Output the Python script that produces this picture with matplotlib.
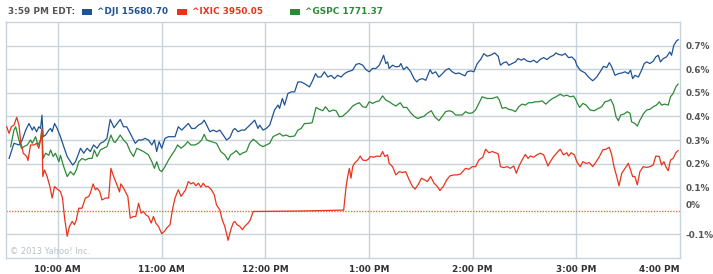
import matplotlib
matplotlib.use("Agg")
import matplotlib.pyplot as plt
import matplotlib.transforms as mtransforms
from matplotlib.patches import Rectangle

plt.rcParams["font.family"] = ["DejaVu Sans"]

# minutes after 9:30 AM, % change from previous close
dji_min = [1.8, 4.6, 7.5, 9.4, 11.4, 13.3, 15.2, 16.2, 17.7, 19.0, 20.0, 20.8, 21.5, 22.9, 24.8, 25.8, 26.7, 28.1, 29.6, 31.5,
           33.4, 35.4, 37.3, 38.6, 40.2, 42.1, 43.1, 45.0, 46.9, 48.8, 50.7, 52.7, 54.6, 56.5, 58.4, 60.3, 62.5, 66.1, 68.0, 69.9,
           71.9, 74.8, 76.7, 78.6, 80.5, 82.4, 84.4, 85.9, 87.2, 88.6, 90.1, 92.0, 94.0, 95.9, 97.8, 99.7, 101.7, 103.6, 105.5, 107.4,
           109.3, 111.3, 113.2, 114.7, 116.1, 118.0, 119.9, 121.8, 123.7, 125.7, 127.6, 129.5, 131.4, 132.4, 134.3, 136.2, 138.1, 140.1, 142.0, 143.9,
           145.8, 146.8, 148.7, 150.6, 152.6, 154.1, 155.4, 157.4, 158.3, 159.9, 161.2, 163.1, 165.0, 167.0, 168.9, 170.8, 172.7, 175.6, 177.5, 179.1,
           180.4, 182.3, 184.2, 186.2, 188.1, 190.0, 191.9, 193.9, 195.8, 197.7, 200.6, 202.5, 204.4, 206.4, 208.3, 210.2, 212.1, 214.0, 216.0, 217.3,
           218.5, 219.8, 220.8, 221.7, 223.7, 225.6, 227.5, 228.5, 230.0, 231.9, 234.2, 236.1, 237.7, 239.0, 241.0, 242.9, 245.4, 246.7, 248.6, 250.5,
           252.5, 254.4, 256.3, 258.2, 260.2, 262.1, 264.0, 265.6, 266.9, 268.8, 270.7, 272.7, 274.6, 276.5, 278.4, 280.3, 282.8, 284.8, 286.1, 288.0,
           289.6, 290.9, 292.8, 294.8, 296.3, 298.2, 299.6, 301.5, 303.4, 305.3, 307.2, 309.2, 311.1, 313.0, 314.9, 316.9, 318.2, 319.7, 321.7, 323.6,
           325.5, 327.4, 329.3, 330.3, 332.2, 335.1, 337.0, 339.5, 341.8, 343.8, 345.7, 347.6, 349.1, 350.5, 352.4, 354.3, 356.3, 358.2, 360.1, 361.4,
           362.6, 363.9, 365.9, 367.8, 369.3, 370.7, 372.6, 374.5, 376.0, 377.4, 378.7, 380.3, 382.2, 384.1, 385.1, 386.4, 388.0, 389.0]
dji_pct = [.222, .286, .279, .300, .342, .370, .342, .356, .335, .356, .349, .405, .314, .321, .342, .349, .335, .370, .349, .314,
           .272, .230, .208, .194, .208, .244, .265, .244, .265, .251, .279, .265, .286, .293, .307, .387, .352, .387, .356, .356,
           .328, .286, .300, .300, .307, .300, .279, .300, .251, .293, .265, .307, .314, .314, .314, .356, .342, .356, .370, .349,
           .349, .363, .370, .384, .363, .335, .342, .335, .342, .321, .300, .310, .342, .349, .335, .342, .342, .356, .370, .384,
           .349, .363, .342, .349, .363, .398, .427, .448, .434, .476, .448, .497, .504, .504, .546, .546, .539, .525, .553, .581,
           .567, .567, .589, .567, .574, .560, .574, .567, .581, .589, .596, .620, .624, .617, .598, .589, .603, .603, .617, .638,
           .659, .624, .631, .603, .617, .610, .612, .624, .598, .610, .589, .560, .546, .556, .560, .553, .598, .581, .589, .567,
           .581, .596, .603, .589, .581, .584, .577, .572, .589, .593, .589, .624, .641, .666, .655, .659, .669, .655, .617, .628,
           .631, .617, .624, .631, .645, .638, .645, .635, .631, .638, .628, .642, .649, .641, .652, .659, .669, .663, .659, .666,
           .649, .652, .638, .617, .596, .584, .567, .551, .567, .589, .612, .607, .628, .610, .574, .581, .584, .589, .581, .596,
           .560, .574, .567, .596, .624, .631, .624, .634, .652, .659, .631, .645, .652, .673, .659, .701, .720, .725]

ixic_min = [0.4, 1.8, 3.1, 4.6, 6.2, 7.5, 8.5, 10.0, 12.0, 12.7, 14.2, 16.2, 17.7, 19.0, 20.0, 20.8, 21.3, 22.3, 23.8, 25.4,
            26.7, 28.1, 29.6, 31.5, 32.7, 33.8, 35.4, 36.7, 38.3, 39.6, 40.7, 42.1, 44.0, 45.9, 47.9, 48.8, 50.4, 51.7, 52.7, 54.2,
            55.5, 57.5, 59.4, 60.7, 62.3, 64.2, 65.7, 66.4, 67.5, 69.0, 70.5, 71.9, 73.8, 75.1, 76.7, 78.2, 79.6, 80.9, 82.4, 84.0,
            85.3, 86.7, 88.2, 90.1, 91.7, 93.0, 94.9, 96.3, 97.8, 99.7, 101.3, 102.6, 103.9, 105.5, 107.0, 108.4, 109.9, 111.3, 112.8, 114.1,
            115.5, 117.0, 118.9, 120.5, 121.8, 123.7, 125.1, 126.6, 128.5, 130.1, 131.4, 132.4, 133.7, 135.3, 136.8, 138.1, 140.1, 141.4, 143.0, 170.0,
            195.4, 196.8, 197.7, 198.7, 199.6, 200.6, 201.6, 203.5, 205.0, 206.4, 208.3, 209.6, 210.8, 212.7, 214.6, 216.5, 217.9, 219.2, 220.8, 221.7,
            223.7, 225.6, 227.5, 229.4, 231.3, 233.3, 235.2, 236.7, 238.4, 240.4, 242.3, 243.8, 245.7, 247.7, 249.6, 251.1, 253.0, 255.0, 256.9, 259.2,
            261.1, 263.0, 265.9, 267.9, 269.8, 271.7, 273.6, 275.9, 277.5, 279.4, 281.3, 283.2, 284.8, 286.1, 288.0, 290.0, 291.9, 293.8, 295.3, 296.7,
            298.6, 300.5, 302.1, 303.4, 305.3, 307.2, 309.2, 311.1, 312.4, 313.6, 314.9, 316.9, 318.8, 320.7, 322.6, 324.5, 325.5, 327.0, 328.9, 330.3,
            332.2, 333.8, 335.7, 337.6, 339.5, 341.5, 343.4, 345.3, 347.2, 349.1, 350.5, 351.8, 353.4, 354.7, 356.3, 358.2, 360.1, 361.4, 362.6, 363.9,
            365.3, 366.8, 368.7, 370.7, 372.6, 374.5, 376.0, 378.0, 379.3, 380.7, 381.8, 383.2, 384.5, 386.0, 387.6, 388.9]
ixic_pct = [.356, .328, .356, .363, .396, .363, .293, .244, .230, .213, .279, .279, .286, .265, .300, .349, .145, .173, .145, .103,
            .054, .103, .092, .082, .054, -.024, -.108, -.066, -.045, -.059, -.038, .011, .011, .054, .061, .075, .114, .089, .096, .082,
            .046, .054, .054, .180, .145, .110, .080, .114, .103, .082, .061, -.031, -.024, -.024, .032, -.010, -.003, -.017, -.024, -.052,
            -.024, -.052, -.066, -.097, -.087, -.073, -.059, .004, .054, .089, .061, .075, .089, .124, .114, .120, .106, .117, .100, .117,
            .103, .103, .089, .068, .025, .004, -.038, -.066, -.125, -.080, -.052, -.045, -.059, -.066, -.080, -.066, -.052, -.038, -.003, -.001,
            .003, .103, .145, .180, .138, .187, .201, .215, .232, .215, .213, .218, .230, .227, .232, .230, .251, .230, .237, .201,
            .187, .152, .166, .162, .166, .131, .103, .092, .110, .138, .131, .124, .145, .117, .103, .086, .103, .131, .148, .152,
            .152, .156, .180, .176, .187, .187, .215, .227, .261, .246, .251, .246, .241, .187, .183, .187, .180, .190, .159, .187,
            .215, .239, .222, .232, .227, .237, .244, .237, .213, .190, .208, .230, .246, .261, .237, .246, .232, .246, .237, .208,
            .187, .208, .201, .204, .187, .208, .230, .258, .261, .269, .237, .187, .145, .106, .159, .180, .201, .173, .145, .145,
            .110, .166, .187, .184, .187, .194, .232, .230, .194, .208, .187, .170, .215, .222, .246, .255]

gspc_min = [2.7, 4.6, 5.6, 7.5, 8.9, 10.4, 12.3, 14.2, 15.2, 17.1, 18.5, 20.0, 20.8, 21.5, 22.9, 24.8, 25.8, 27.3, 28.6, 30.6,
            31.5, 33.4, 35.4, 37.3, 39.2, 40.7, 42.1, 44.0, 45.9, 47.9, 49.8, 51.1, 52.7, 54.6, 56.5, 58.4, 60.7, 62.3, 63.2, 66.1,
            68.0, 69.9, 71.9, 73.8, 75.7, 77.6, 79.6, 82.4, 84.4, 85.9, 87.2, 88.8, 90.1, 92.0, 94.0, 95.9, 97.8, 99.3, 101.3, 103.6,
            105.1, 107.0, 109.3, 111.3, 113.2, 114.7, 116.1, 118.9, 121.8, 124.3, 126.6, 128.5, 130.0, 131.4, 133.3, 135.3, 137.2, 139.1, 141.0, 143.0,
            144.9, 146.8, 148.7, 150.6, 152.6, 154.5, 156.4, 158.3, 160.2, 162.2, 164.1, 167.0, 168.9, 170.8, 172.7, 174.6, 177.1, 179.4, 181.4, 183.3,
            184.8, 187.1, 189.1, 191.0, 192.9, 194.8, 196.7, 198.7, 200.6, 202.5, 204.4, 206.4, 208.3, 210.2, 212.1, 214.0, 216.0, 217.9, 219.8, 221.7,
            223.7, 225.6, 228.1, 230.0, 231.9, 234.2, 236.1, 238.1, 240.0, 241.9, 243.8, 246.1, 248.1, 250.5, 252.5, 254.4, 256.3, 258.2, 260.2, 262.1,
            264.0, 265.9, 267.9, 269.8, 271.7, 273.6, 275.5, 278.4, 281.3, 284.2, 285.5, 287.1, 289.0, 290.9, 292.8, 294.8, 296.7, 298.6, 300.5, 302.4,
            304.4, 306.3, 308.2, 310.1, 312.4, 314.4, 316.3, 318.2, 320.7, 322.6, 324.5, 326.5, 328.4, 329.7, 330.3, 331.9, 333.8, 335.7, 338.0, 340.3,
            342.8, 344.7, 346.6, 348.6, 349.9, 351.5, 353.0, 354.3, 355.7, 357.6, 359.5, 361.1, 362.0, 363.9, 365.3, 366.8, 367.8, 368.7, 370.7, 372.6,
            374.5, 376.4, 378.0, 379.3, 381.2, 383.2, 384.5, 386.0, 387.6, 388.9]
gspc_pct = [.272, .342, .356, .300, .265, .272, .279, .300, .286, .314, .279, .300, .342, .222, .244, .235, .258, .230, .244, .208,
            .235, .187, .145, .166, .152, .173, .208, .222, .215, .222, .222, .258, .230, .258, .265, .272, .321, .293, .289, .321,
            .300, .286, .251, .230, .265, .258, .251, .237, .208, .180, .208, .173, .166, .187, .215, .237, .258, .279, .265, .279,
            .293, .279, .279, .286, .300, .324, .300, .293, .286, .251, .237, .215, .237, .244, .255, .237, .246, .251, .286, .303,
            .293, .279, .272, .279, .286, .314, .321, .328, .317, .321, .314, .317, .342, .349, .370, .370, .373, .438, .430, .424,
            .441, .420, .427, .424, .398, .401, .413, .427, .444, .452, .458, .441, .438, .462, .455, .462, .466, .487, .469, .462,
            .452, .444, .458, .438, .438, .415, .401, .391, .396, .401, .413, .424, .398, .382, .401, .420, .424, .420, .406, .406,
            .406, .420, .413, .415, .427, .455, .483, .476, .476, .483, .469, .434, .438, .430, .427, .420, .441, .452, .448, .458,
            .458, .462, .462, .466, .452, .466, .476, .483, .494, .486, .490, .483, .486, .472, .460, .438, .455, .448, .427, .424,
            .434, .441, .462, .466, .472, .448, .398, .382, .406, .410, .420, .413, .377, .370, .359, .384, .396, .410, .427, .430,
            .441, .448, .462, .448, .452, .448, .483, .497, .525, .537]

hour_ticks = [30, 90, 150, 210, 270, 330, 390]
hour_labels = ["10:00 AM", "11:00 AM", "12:00 PM", "1:00 PM", "2:00 PM", "3:00 PM", "4:00 PM"]
pct_ticks = [0.7, 0.6, 0.5, 0.4, 0.3, 0.2, 0.1, 0.0, -0.1]
pct_labels = ["0.7%", "0.6%", "0.5%", "0.4%", "0.3%", "0.2%", "0.1%", "0%", "-0.1%"]

header_time = "3:59 PM EDT:"
legend_names = ["^DJI 15680.70", "^IXIC 3950.05", "^GSPC 1771.37"]

BLUE = "#1f5394"
RED = "#e8341c"
GREEN = "#2c8a36"
GRID = "#c8d2da"
W, H = 713, 274

fig = plt.figure(figsize=(W / 100, H / 100), dpi=100)
ax = fig.add_axes([6 / W, 16 / H, 674 / W, 236 / H])

ax.plot(dji_min, dji_pct, color=BLUE, lw=0.9, zorder=3)
ax.plot(gspc_min, gspc_pct, color=GREEN, lw=0.9, zorder=3)
ax.plot(ixic_min, ixic_pct, color=RED, lw=0.9, zorder=3)

ax.set_xlim(0, 390)
ax.set_ylim(-0.2, 0.8)

for t in hour_ticks[:-1]:
    ax.axvline(t, color=GRID, lw=1, zorder=1)
for p in pct_ticks:
    if p != 0:
        ax.axhline(p, color=GRID, lw=1, zorder=1)
ax.axhline(0, color="#e8704a", lw=1, ls=(0, (1, 1)), zorder=2)

for s in ax.spines.values():
    s.set_color(GRID)
    s.set_linewidth(1)

ax.set_xticks(hour_ticks)
ax.set_xticklabels(hour_labels, fontsize=6.4, fontweight="bold", color="#333333")
ax.tick_params(axis="x", length=0, pad=5)
ax.xaxis.get_ticklabels()[-1].set_horizontalalignment("right")

ax.yaxis.tick_right()
ax.set_yticks(pct_ticks)
ax.set_yticklabels(pct_labels, fontsize=6.4, fontweight="bold", color="#555555")
ax.tick_params(axis="y", length=0, pad=4)
zero_lbl = ax.yaxis.get_ticklabels()[pct_ticks.index(0.0)]
zero_lbl.set_transform(zero_lbl.get_transform() + mtransforms.ScaledTranslation(0, 6 / 100, fig.dpi_scale_trans))

ax.text(4 / 674, 7 / 236, "\u00a9 2013 Yahoo! Inc.", transform=ax.transAxes, fontsize=6,
        color="#b8c0c8", va="center", ha="left")

# header line
yc = 1 - 12 / H
fig.text(8 / W, yc, header_time, fontsize=6.4, fontweight="bold", color="#555555", va="center")
for name, col, sq_x in zip(legend_names, [BLUE, RED, GREEN], [82, 177, 290]):
    fig.add_artist(Rectangle((sq_x / W, yc - 2.5 / H), 10 / W, 5 / H, transform=fig.transFigure,
                             facecolor=col, edgecolor="none"))
    fig.text((sq_x + 15) / W, yc, name, fontsize=6.4, fontweight="bold", color=col, va="center")

fig.savefig("out.png", dpi=100)
